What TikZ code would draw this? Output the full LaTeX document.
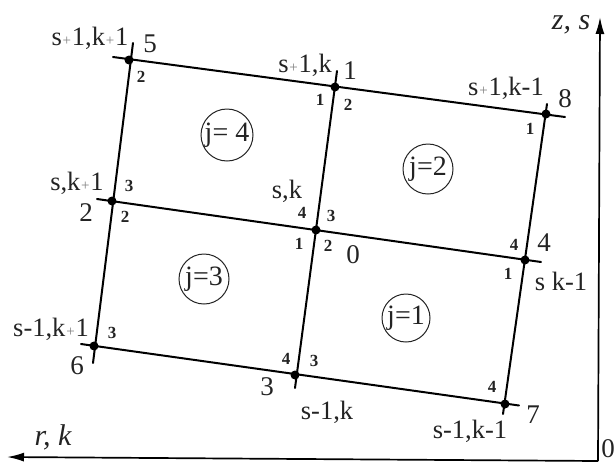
\documentclass[tikz,border=0pt]{standalone}
\usepackage{fontspec}
\setmainfont{Liberation Serif}
\usepackage{tikz}
\usetikzlibrary{arrows.meta, calc}
\definecolor{inkgray}{RGB}{35,35,35}
\newcommand{\smallplus}{{\kern0.8pt\fontsize{15}{15}\selectfont\textcolor{gray}{+}\kern0.8pt}}

\begin{document}
\begin{tikzpicture}[
    x=1pt, y=-1pt,
    %% Styles
    gridline/.style={line width=2pt, black, line cap=round},
    axisline/.style={line width=1.7pt, black},
    axisarrow/.style={-{Latex[length=17pt, width=9pt]}, axisline},
    joint/.style={circle, fill=black, inner sep=0pt, minimum size=9pt},
    coordlbl/.style={font=\fontsize{26.5}{26.5}\selectfont, text=inkgray, inner sep=0pt},
    pointnum/.style={font=\fontsize{27}{27}\selectfont, text=inkgray, inner sep=0pt},
    cornernum/.style={font=\fontsize{17}{17}\selectfont\bfseries, text=inkgray, inner sep=0pt},
    axislbl/.style={font=\fontsize{30}{30}\selectfont\itshape, text=inkgray, inner sep=0pt},
    cell/.style={circle, draw=inkgray, line width=1pt, minimum size=50pt, inner sep=0pt,
      font=\fontsize{28}{28}\selectfont, text=inkgray}
  ]
  \useasboundingbox (0,0) rectangle (616,464);

  %% ── Mesh points ─────────────────────────────────
  \node[joint] (p5) at (129,60) {};
  \node[joint] (p1) at (335,87) {};
  \node[joint] (p8) at (546,114) {};
  \node[joint] (p2) at (112,201) {};
  \node[joint] (p0) at (316,230) {};
  \node[joint] (p4) at (525,260) {};
  \node[joint] (p6) at (94,346) {};
  \node[joint] (p3) at (295,375) {};
  \node[joint] (p7) at (505,404) {};

  %% ── Free line ends ──────────────────────────────
  \coordinate (topW) at (113,57);
  \coordinate (topE) at (565,117);
  \coordinate (midW) at (97,199);
  \coordinate (midE) at (541,262);
  \coordinate (lowW) at (81,344);
  \coordinate (lowE) at (519,405.5);
  \coordinate (leftN) at (133,43);
  \coordinate (leftS) at (93,363);
  \coordinate (midN) at (337,71);
  \coordinate (midS) at (295,388);
  \coordinate (rightN) at (547,104);
  \coordinate (rightS) at (503,414);

  %% ── Grid lines ──────────────────────────────────
  \draw[gridline] (topW) -- (topE);
  \draw[gridline] (midW) -- (midE);
  \draw[gridline] (lowW) -- (lowE);
  \draw[gridline] (leftN) -- (leftS);
  \draw[gridline] (midN) -- (midS);
  \draw[gridline] (rightN) -- (rightS);

  %% ── Axes ────────────────────────────────────────
  \coordinate (origin) at (598,461);
  \coordinate (zEnd) at (600,17);
  \coordinate (rEnd) at (7,457);
  \draw[axisarrow] (origin) -- (zEnd);
  \draw[axisarrow] (origin) -- (rEnd);
  \node[axislbl] (zs) at (571,25) {z, s};
  \node[axislbl] (rk) at (53,437) {r, k};
  \node[pointnum] (zero) at (608,449) {0};

  %% ── Cell circles ────────────────────────────────
  \node[cell, minimum size=52pt] (j4) at (227,135) {j= 4};
  \node[cell] (j2) at (428,169) {j=2};
  \node[cell] (j3) at (204,279) {j=3};
  \node[cell, minimum size=48pt] (j1) at (406,318) {j=1};

  %% ── Point numbers ───────────────────────────────
  \node[pointnum] (num5) at (150,44) {5};
  \node[pointnum] (num1) at (350,71) {1};
  \node[pointnum] (num8) at (565,99) {8};
  \node[pointnum] (num2) at (86,213) {2};
  \node[pointnum] (num0) at (353,255) {0};
  \node[pointnum] (num4) at (544,243) {4};
  \node[pointnum] (num6) at (77,366) {6};
  \node[pointnum] (num3) at (267,387) {3};
  \node[pointnum] (num7) at (533,415) {7};

  %% ── Index labels ────────────────────────────────
  \node[coordlbl] (lblA) at (90,38) {s\smallplus1,k\smallplus1};
  \node[coordlbl] (lblB) at (305,65) {s\smallplus1,k};
  \node[coordlbl] (lblC) at (506,88) {s\smallplus1,k-1};
  \node[coordlbl] (lblD) at (77,183) {s,k\smallplus1};
  \node[coordlbl] (lblE) at (287,191) {s,k};
  \node[coordlbl] (lblF) at (561,281) {s k-1};
  \node[coordlbl] (lblG) at (51,329) {s-1,k\smallplus1};
  \node[coordlbl] (lblH) at (327,412) {s-1,k};
  \node[coordlbl] (lblI) at (470,431) {s-1,k-1};

  %% ── Corner numbers ──────────────────────────────
  \node[cornernum] (c5b) at (141,77) {2};
  \node[cornernum] (c1a) at (320,100) {1};
  \node[cornernum] (c1b) at (348,105) {2};
  \node[cornernum] (c8a) at (530,129) {1};
  \node[cornernum] (c2a) at (129,186) {3};
  \node[cornernum] (c2b) at (125,217) {2};
  \node[cornernum] (c0a) at (302,213) {4};
  \node[cornernum] (c0b) at (331,216) {3};
  \node[cornernum] (c0c) at (299,244) {1};
  \node[cornernum] (c0d) at (328,246) {2};
  \node[cornernum] (c4a) at (514,245) {4};
  \node[cornernum] (c4b) at (508,274) {1};
  \node[cornernum] (c6a) at (112,333) {3};
  \node[cornernum] (c3a) at (286,359) {4};
  \node[cornernum] (c3b) at (314,361) {3};
  \node[cornernum] (c7a) at (492,387) {4};
\end{tikzpicture}
\end{document}
